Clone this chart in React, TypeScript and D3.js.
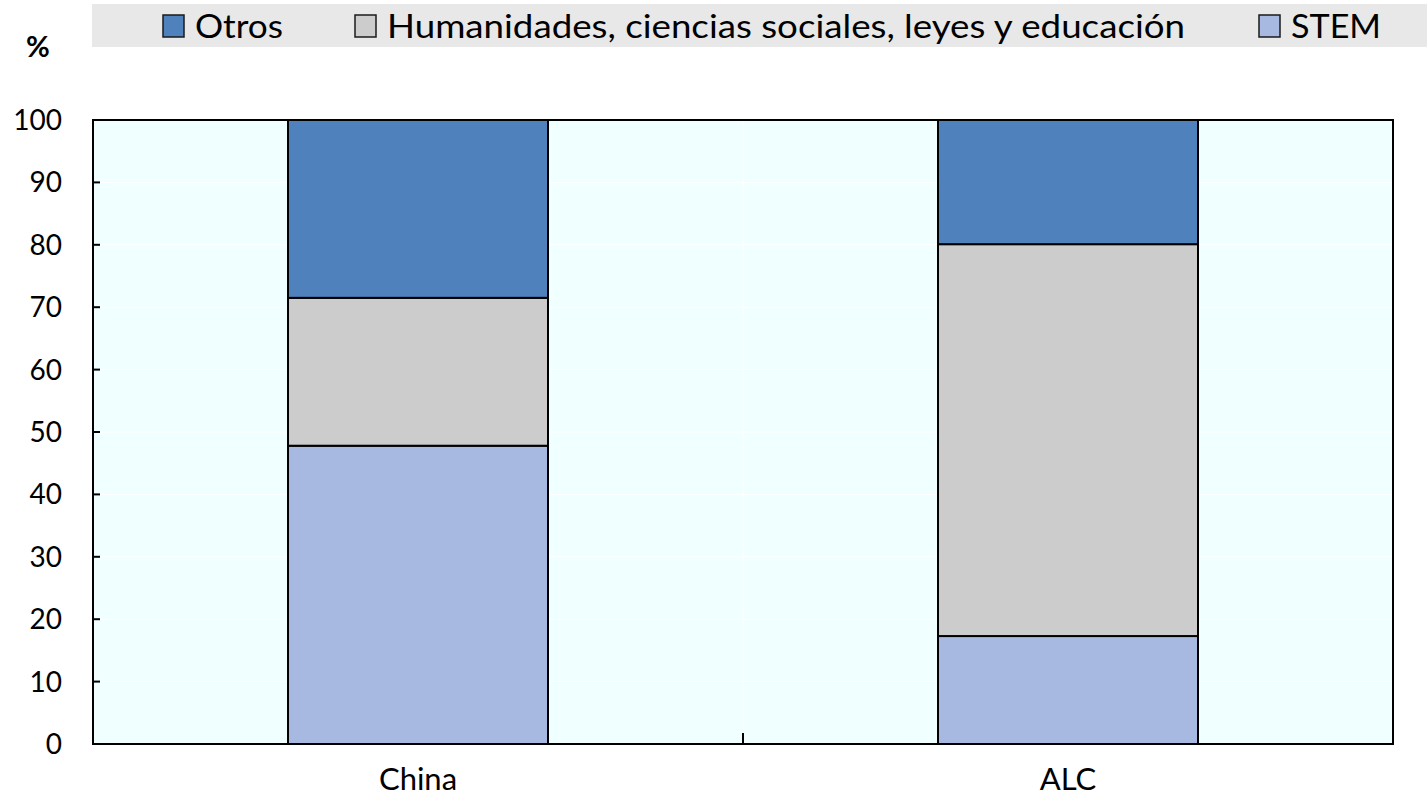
import React from "react";
import * as d3 from "d3";

const categories = ["China", "ALC"];
const seriesNames = ["STEM", "Humanidades, ciencias sociales, leyes y educación", "Otros"];
const stem = [47.8, 17.3];
const humanidades = [23.7, 62.8];
const otros = [28.5, 19.9];
const yTicks = [0, 10, 20, 30, 40, 50, 60, 70, 80, 90, 100];
const legendOrder = ["Otros", "Humanidades, ciencias sociales, leyes y educación", "STEM"];

const colors: Record<string, string> = {
  STEM: "#a7b8e1",
  "Humanidades, ciencias sociales, leyes y educación": "#cccccc",
  Otros: "#4f81bd",
};

const W = 1427;
const H = 798;
const m = { left: 93, right: 1393, top: 120, bottom: 744 };
const FONT = "Lato, 'Open Sans', sans-serif";

export default function App() {
  const x = d3.scaleBand<string>().domain(categories).range([m.left, m.right]).paddingInner(0.6).paddingOuter(0.3);
  const y = d3.scaleLinear().domain([0, 100]).range([m.bottom, m.top]);

  const rows = categories.map((c, i) => ({
    cat: c,
    STEM: stem[i],
    "Humanidades, ciencias sociales, leyes y educación": humanidades[i],
    Otros: otros[i],
  }));
  const stacked = d3.stack<any>().keys(seriesNames)(rows);

  const legendPos: Record<string, number> = {
    Otros: 162,
    "Humanidades, ciencias sociales, leyes y educación": 354,
    STEM: 1258,
  };
  const legendLen: Record<string, number> = {
    Otros: 88,
    "Humanidades, ciencias sociales, leyes y educación": 798,
    STEM: 90,
  };

  const catW = (m.right - m.left) / categories.length;

  return (
    <svg width={W} height={H} style={{ position: "absolute", left: 0, top: 0 }}>
      <rect x={0} y={0} width={W} height={H} fill="#ffffff" />
      {/* legend */}
      <rect x={92} y={4} width={W - 92} height={43} fill="#e8e8e8" />
      {legendOrder.map((k) => (
        <g key={k}>
          <rect x={legendPos[k] + 1} y={15} width={21} height={22} fill={colors[k]} stroke="#1a1a1a" strokeWidth={1.5} />
          <text x={legendPos[k] + 33} y={38} fontFamily={FONT} fontSize={33} fill="#000" textLength={legendLen[k]} lengthAdjust="spacingAndGlyphs">{k}</text>
        </g>
      ))}
      <text x={38} y={57} textAnchor="middle" fontFamily={FONT} fontSize={29} fontWeight="bold" fill="#000">%</text>

      {/* plot background */}
      <rect x={m.left} y={m.top} width={m.right - m.left} height={m.bottom - m.top} fill="#f0ffff" />
      {yTicks.slice(1, -1).map((t) => (
        <line key={t} x1={m.left} x2={m.right} y1={y(t)} y2={y(t)} stroke="#ffffff" strokeWidth={1} />
      ))}
      <line x1={m.left + catW} x2={m.left + catW} y1={m.top} y2={m.bottom} stroke="#ffffff" strokeWidth={1} />

      {/* bars */}
      {stacked.map((s) => (
        <g key={s.key}>
          {s.map((d, i) => (
            <rect
              key={i}
              x={x(categories[i])}
              width={x.bandwidth()}
              y={y(d[1])}
              height={y(d[0]) - y(d[1])}
              fill={colors[s.key]}
              stroke="#000"
              strokeWidth={2}
            />
          ))}
        </g>
      ))}

      {/* frame */}
      <rect x={m.left} y={m.top} width={m.right - m.left} height={m.bottom - m.top} fill="none" stroke="#000" strokeWidth={2} />

      {/* y axis ticks */}
      {yTicks.map((t) => (
        <g key={t}>
          <line x1={m.left} x2={m.left + 7} y1={y(t)} y2={y(t)} stroke="#000" strokeWidth={2} />
          <text x={62} y={y(t) + 10} textAnchor="end" fontFamily={FONT} fontSize={28} fill="#000">{t}</text>
        </g>
      ))}
      {/* x axis */}
      <line x1={m.left + catW} x2={m.left + catW} y1={m.bottom} y2={m.bottom - 11} stroke="#000" strokeWidth={2} />
      {categories.map((c) => (
        <text key={c} x={(x(c) as number) + x.bandwidth() / 2} y={790} textAnchor="middle" fontFamily={FONT} fontSize={31} fill="#000">{c}</text>
      ))}
    </svg>
  );
}
